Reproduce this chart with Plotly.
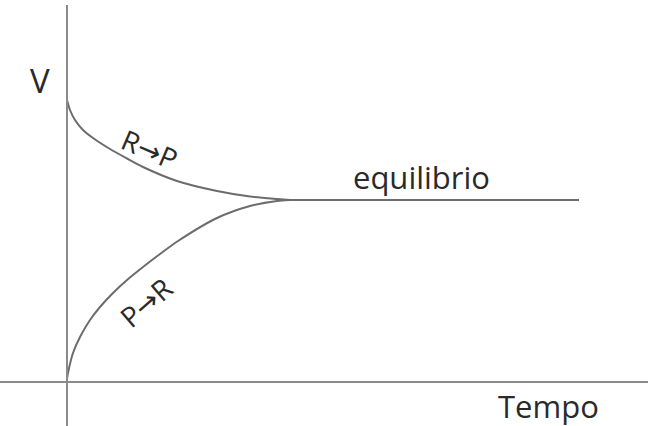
import plotly.graph_objects as go

# R -> P rate (decreasing)
t_rp = [0, 3, 8, 16, 26, 43, 60, 76, 110, 150, 183, 210, 223]
v_rp = [282, 272, 262, 252, 244, 233, 223.5, 215, 201, 191, 185.5, 183, 182]

# P -> R rate (increasing)
t_pr = [0, 1, 6, 13, 23, 33, 46, 60, 76, 93, 111, 150, 183, 210, 223]
v_pr = [3, 9, 29, 45, 62, 75, 89, 102, 115, 128, 141, 164, 176, 181, 182]

# equilibrium plateau
t_eq = [223, 512]
v_eq = [182, 182]

LINE = "#6c6c6c"
AXIS = "#8a8a8a"
TXT = "#2a2a2a"
FONT = "Open Sans"

fig = go.Figure()
for t, v in [(t_rp, v_rp), (t_pr, v_pr), (t_eq, v_eq)]:
    fig.add_trace(go.Scatter(x=t, y=v, mode="lines",
                             line=dict(color=LINE, width=2, shape="spline", smoothing=0.7),
                             hoverinfo="skip", showlegend=False))

fig.add_shape(type="line", x0=0, x1=0, y0=-44, y1=377, line=dict(color=AXIS, width=2))
fig.add_shape(type="line", x0=-67, x1=581, y0=0, y1=0, line=dict(color=AXIS, width=2))

def ann(text, x, y, size, angle=0):
    fig.add_annotation(x=x, y=y, text=text, showarrow=False, textangle=angle,
                       font=dict(family=FONT, size=size, color=TXT),
                       xanchor="center", yanchor="middle")

ARROW = "<span style='font-family:DejaVu Sans'>→</span>"
ann("V", -27, 302, 33)
ann("equilibrio", 354, 205, 31)
ann("Tempo", 481, -24, 31)
ann("R" + ARROW + "P", 83, 233, 28, 23)
ann("P" + ARROW + "R", 79, 80, 28, -41)

fig.update_layout(
    width=648, height=426,
    margin=dict(l=0, r=0, t=0, b=0),
    paper_bgcolor="white", plot_bgcolor="white",
    xaxis=dict(range=[-67, 581], visible=False, fixedrange=True),
    yaxis=dict(range=[-44, 382], visible=False, fixedrange=True),
)
fig.write_html("out.html", config={"displayModeBar": False},
               post_script="document.body.style.margin='0';")
